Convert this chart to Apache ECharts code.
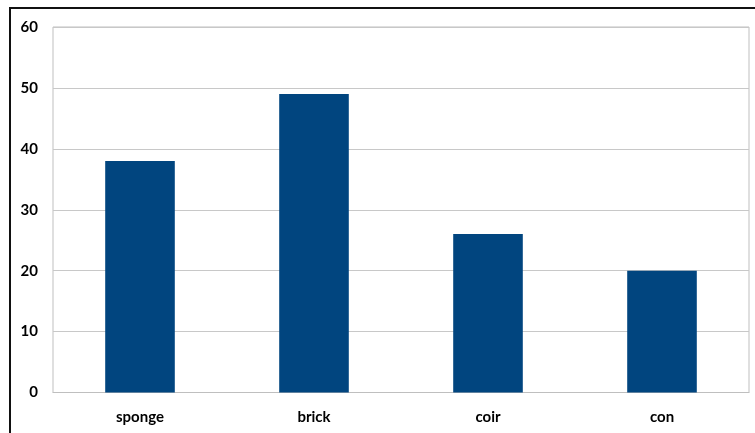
<!DOCTYPE html>
<html>
<head>
<meta charset="utf-8">
<script src="https://cdn.jsdelivr.net/npm/echarts@6/dist/echarts.min.js"></script>
<style>
  html, body { margin: 0; padding: 0; background: #fff; }
  #chart { width: 755px; height: 433px; }
</style>
</head>
<body>
<div id="chart"></div>
<script>
// Absorbent materials and their values
const categories = ['sponge', 'brick', 'coir', 'con'];
const values = [38, 49, 26, 20];
const yTicks = { min: 0, max: 60, interval: 10 };

const chart = echarts.init(document.getElementById('chart'), null, { renderer: 'canvas' });

const labelFont = {
  fontFamily: 'Lato, "Open Sans", sans-serif',
  fontWeight: 'bold',
  fontSize: 15,
  color: '#000'
};

chart.setOption({
  animation: false,
  backgroundColor: '#fff',
  grid: { left: 53, top: 27, right: 6, bottom: 40.5, show: true, borderColor: '#bfbfbf', borderWidth: 1 },
  xAxis: {
    type: 'category',
    data: categories,
    axisLine: { show: true, lineStyle: { color: '#bfbfbf' } },
    axisTick: { show: false },
    axisLabel: Object.assign({ margin: 17 }, labelFont)
  },
  yAxis: {
    type: 'value',
    min: yTicks.min,
    max: yTicks.max,
    interval: yTicks.interval,
    axisLine: { show: false },
    axisTick: { show: false },
    splitLine: { lineStyle: { color: '#c8c8c8', width: 1 } },
    axisLabel: Object.assign({ margin: 15 }, labelFont)
  },
  series: [{
    type: 'bar',
    data: values,
    barWidth: '40%',
    itemStyle: { color: '#01457f' }
  }],
  graphic: [{
    type: 'polyline',
    shape: { points: [[10, 433], [10, 8], [755, 8]] },
    style: { stroke: '#111', lineWidth: 2, fill: null },
    silent: true
  }]
});
</script>
</body>
</html>
